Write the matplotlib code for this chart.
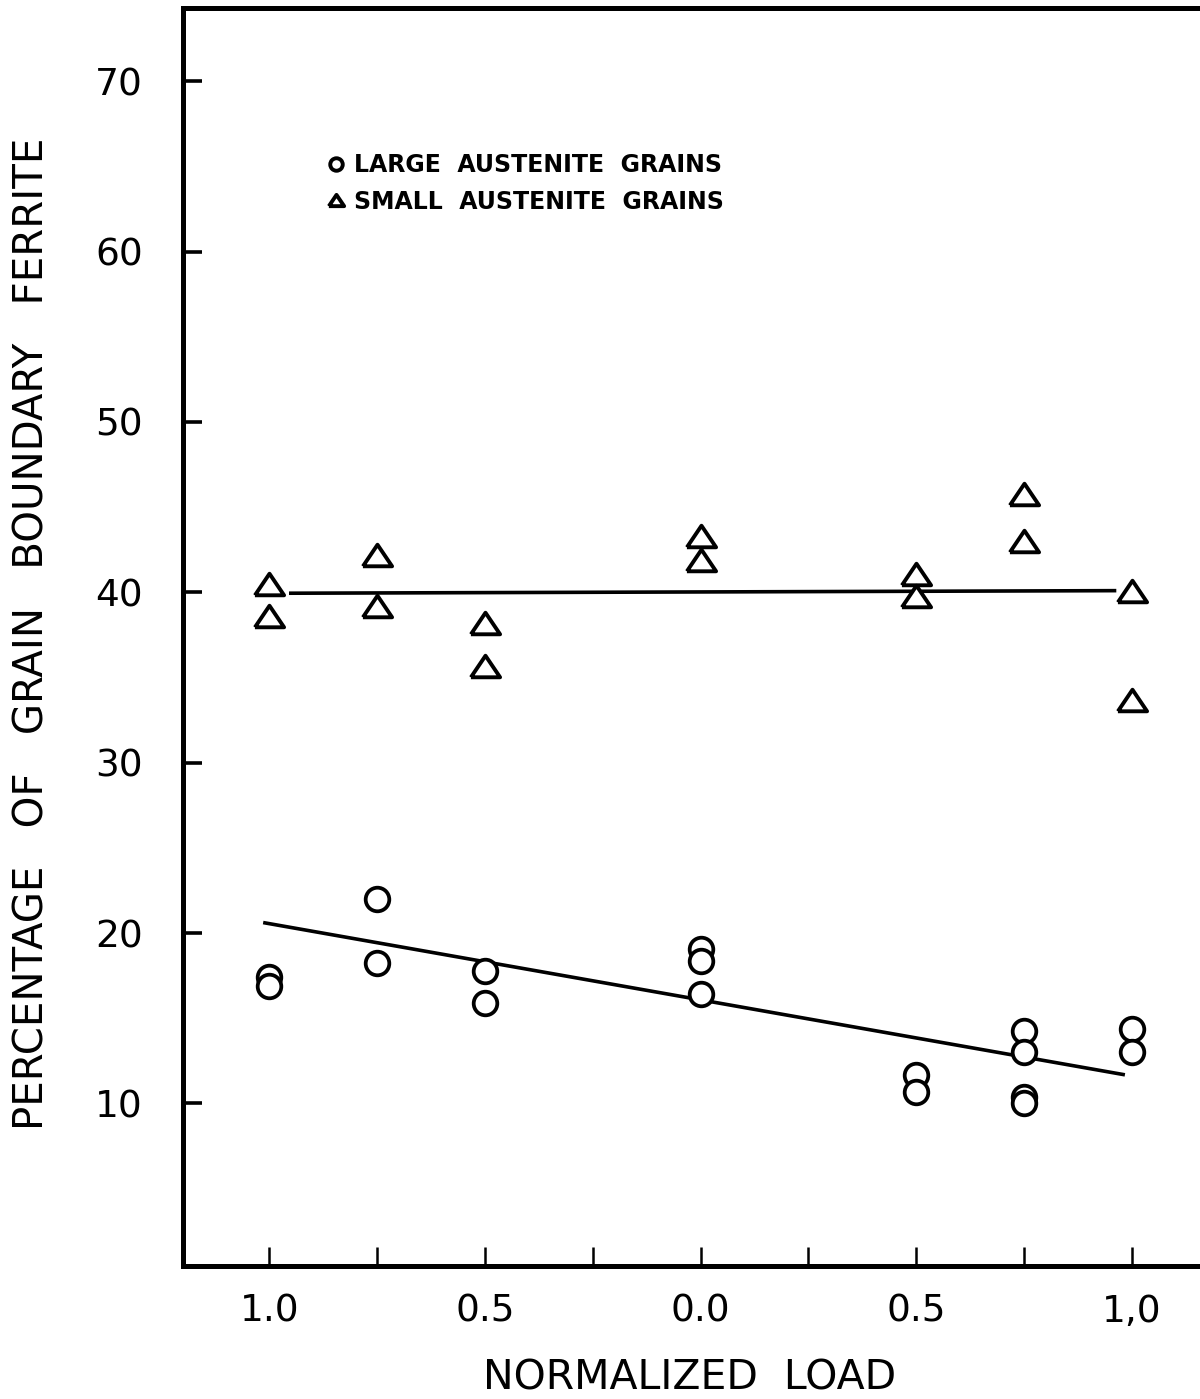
import numpy as np
import matplotlib.pyplot as plt
from matplotlib.lines import Line2D

# axis ticks (load runs 1.0 -> 0 -> 1.0)
x_ticks = [-1.0, -0.5, 0.0, 0.5, 1.0]
x_minor = [-0.75, -0.25, 0.25, 0.75]
x_labels = ['1.0', '0.5', '0.0', '0.5', '1,0']
y_ticks = [10, 20, 30, 40, 50, 60, 70]

# small austenite grains (triangles)
tri_x = np.array([-1.0, -1.0, -0.75, -0.75, -0.5, -0.5, 0.0, 0.0,
                  0.5, 0.5, 0.75, 0.75, 1.0, 1.0])
tri_y = np.array([40.5, 38.6, 42.2, 39.2, 38.2, 35.7, 43.3, 41.9,
                  41.1, 39.8, 45.8, 43.0, 40.1, 33.7])

# large austenite grains (circles)
circ_x = np.array([-1.0, -1.0, -0.75, -0.75, -0.5, -0.5, 0.0, 0.0, 0.0,
                   0.5, 0.5, 0.75, 0.75, 0.75, 0.75, 1.0, 1.0])
circ_y = np.array([17.4, 16.9, 22.0, 18.25, 17.8, 15.9, 19.05, 18.35, 16.4,
                   11.7, 10.7, 14.25, 13.0, 10.4, 10.05, 14.4, 13.0])

# hand drawn trend lines (end points)
tri_fit_x = [-0.95, 0.96]
tri_fit_y = [39.95, 40.1]
circ_fit_x = [-1.01, 0.98]
circ_fit_y = [20.6, 11.7]

# triangle a bit wider than tall, like the original symbols
tri_marker = [(-1, -0.74), (1, -0.74), (0, 0.74), (-1, -0.74)]

plt.rcParams['font.family'] = 'DejaVu Sans'

fig = plt.figure(figsize=(12, 13.99), dpi=100)
ax = fig.add_axes([183 / 1200, 1 - 1266 / 1399, 1035 / 1200, 1258 / 1399])

ax.plot(tri_fit_x, tri_fit_y, color='black', lw=2.6, zorder=2)
ax.plot(circ_fit_x, circ_fit_y, color='black', lw=2.6, zorder=2)
ax.plot(tri_x, tri_y, ls='none', marker=tri_marker, ms=21, mew=2.8,
        mfc='white', mec='black', zorder=3)
ax.plot(circ_x, circ_y, ls='none', marker='o', ms=17, mew=2.7,
        mfc='white', mec='black', zorder=3)

ax.set_xlim(-1.2, 1.2)
ax.set_ylim(0.46, 74.3)

ax.set_xticks(x_ticks)
ax.set_xticklabels(x_labels)
ax.set_xticks(x_minor, minor=True)
ax.set_yticks(y_ticks)
ax.tick_params(axis='y', direction='in', length=14, width=2.6, pad=29, labelsize=27)
ax.tick_params(axis='x', which='both', direction='in', length=13.5, width=1.8,
               pad=20, labelsize=27)

for side in ['left', 'bottom', 'top']:
    ax.spines[side].set_linewidth(3.6)
ax.spines['right'].set_visible(False)

ax.set_ylabel('PERCENTAGE   OF   GRAIN   BOUNDARY   FERRITE', fontsize=29, labelpad=0)
ax.yaxis.set_label_coords(-(183 - 53) / 1035, (1266 - 634) / 1258)
ax.set_xlabel('NORMALIZED  LOAD', fontsize=29.5)
ax.xaxis.set_label_coords((690 - 183) / 1035, -(1358 - 1266) / 1258)

handles = [
    Line2D([], [], ls='none', marker='o', ms=9, mew=2.8, mfc='white', mec='black'),
    Line2D([], [], ls='none', marker=tri_marker, ms=11, mew=2.8, mfc='white', mec='black'),
]
ax.legend(handles, ['LARGE  AUSTENITE  GRAINS', 'SMALL  AUSTENITE  GRAINS'],
          loc='upper left', bbox_to_anchor=(327 / 1200, 1 - 153 / 1399),
          bbox_transform=fig.transFigure, frameon=False, borderpad=0,
          borderaxespad=0, handlelength=0.75, handletextpad=0.4,
          labelspacing=0.53, prop={'weight': 'bold', 'size': 17})

fig.savefig('out.png', dpi=100)
